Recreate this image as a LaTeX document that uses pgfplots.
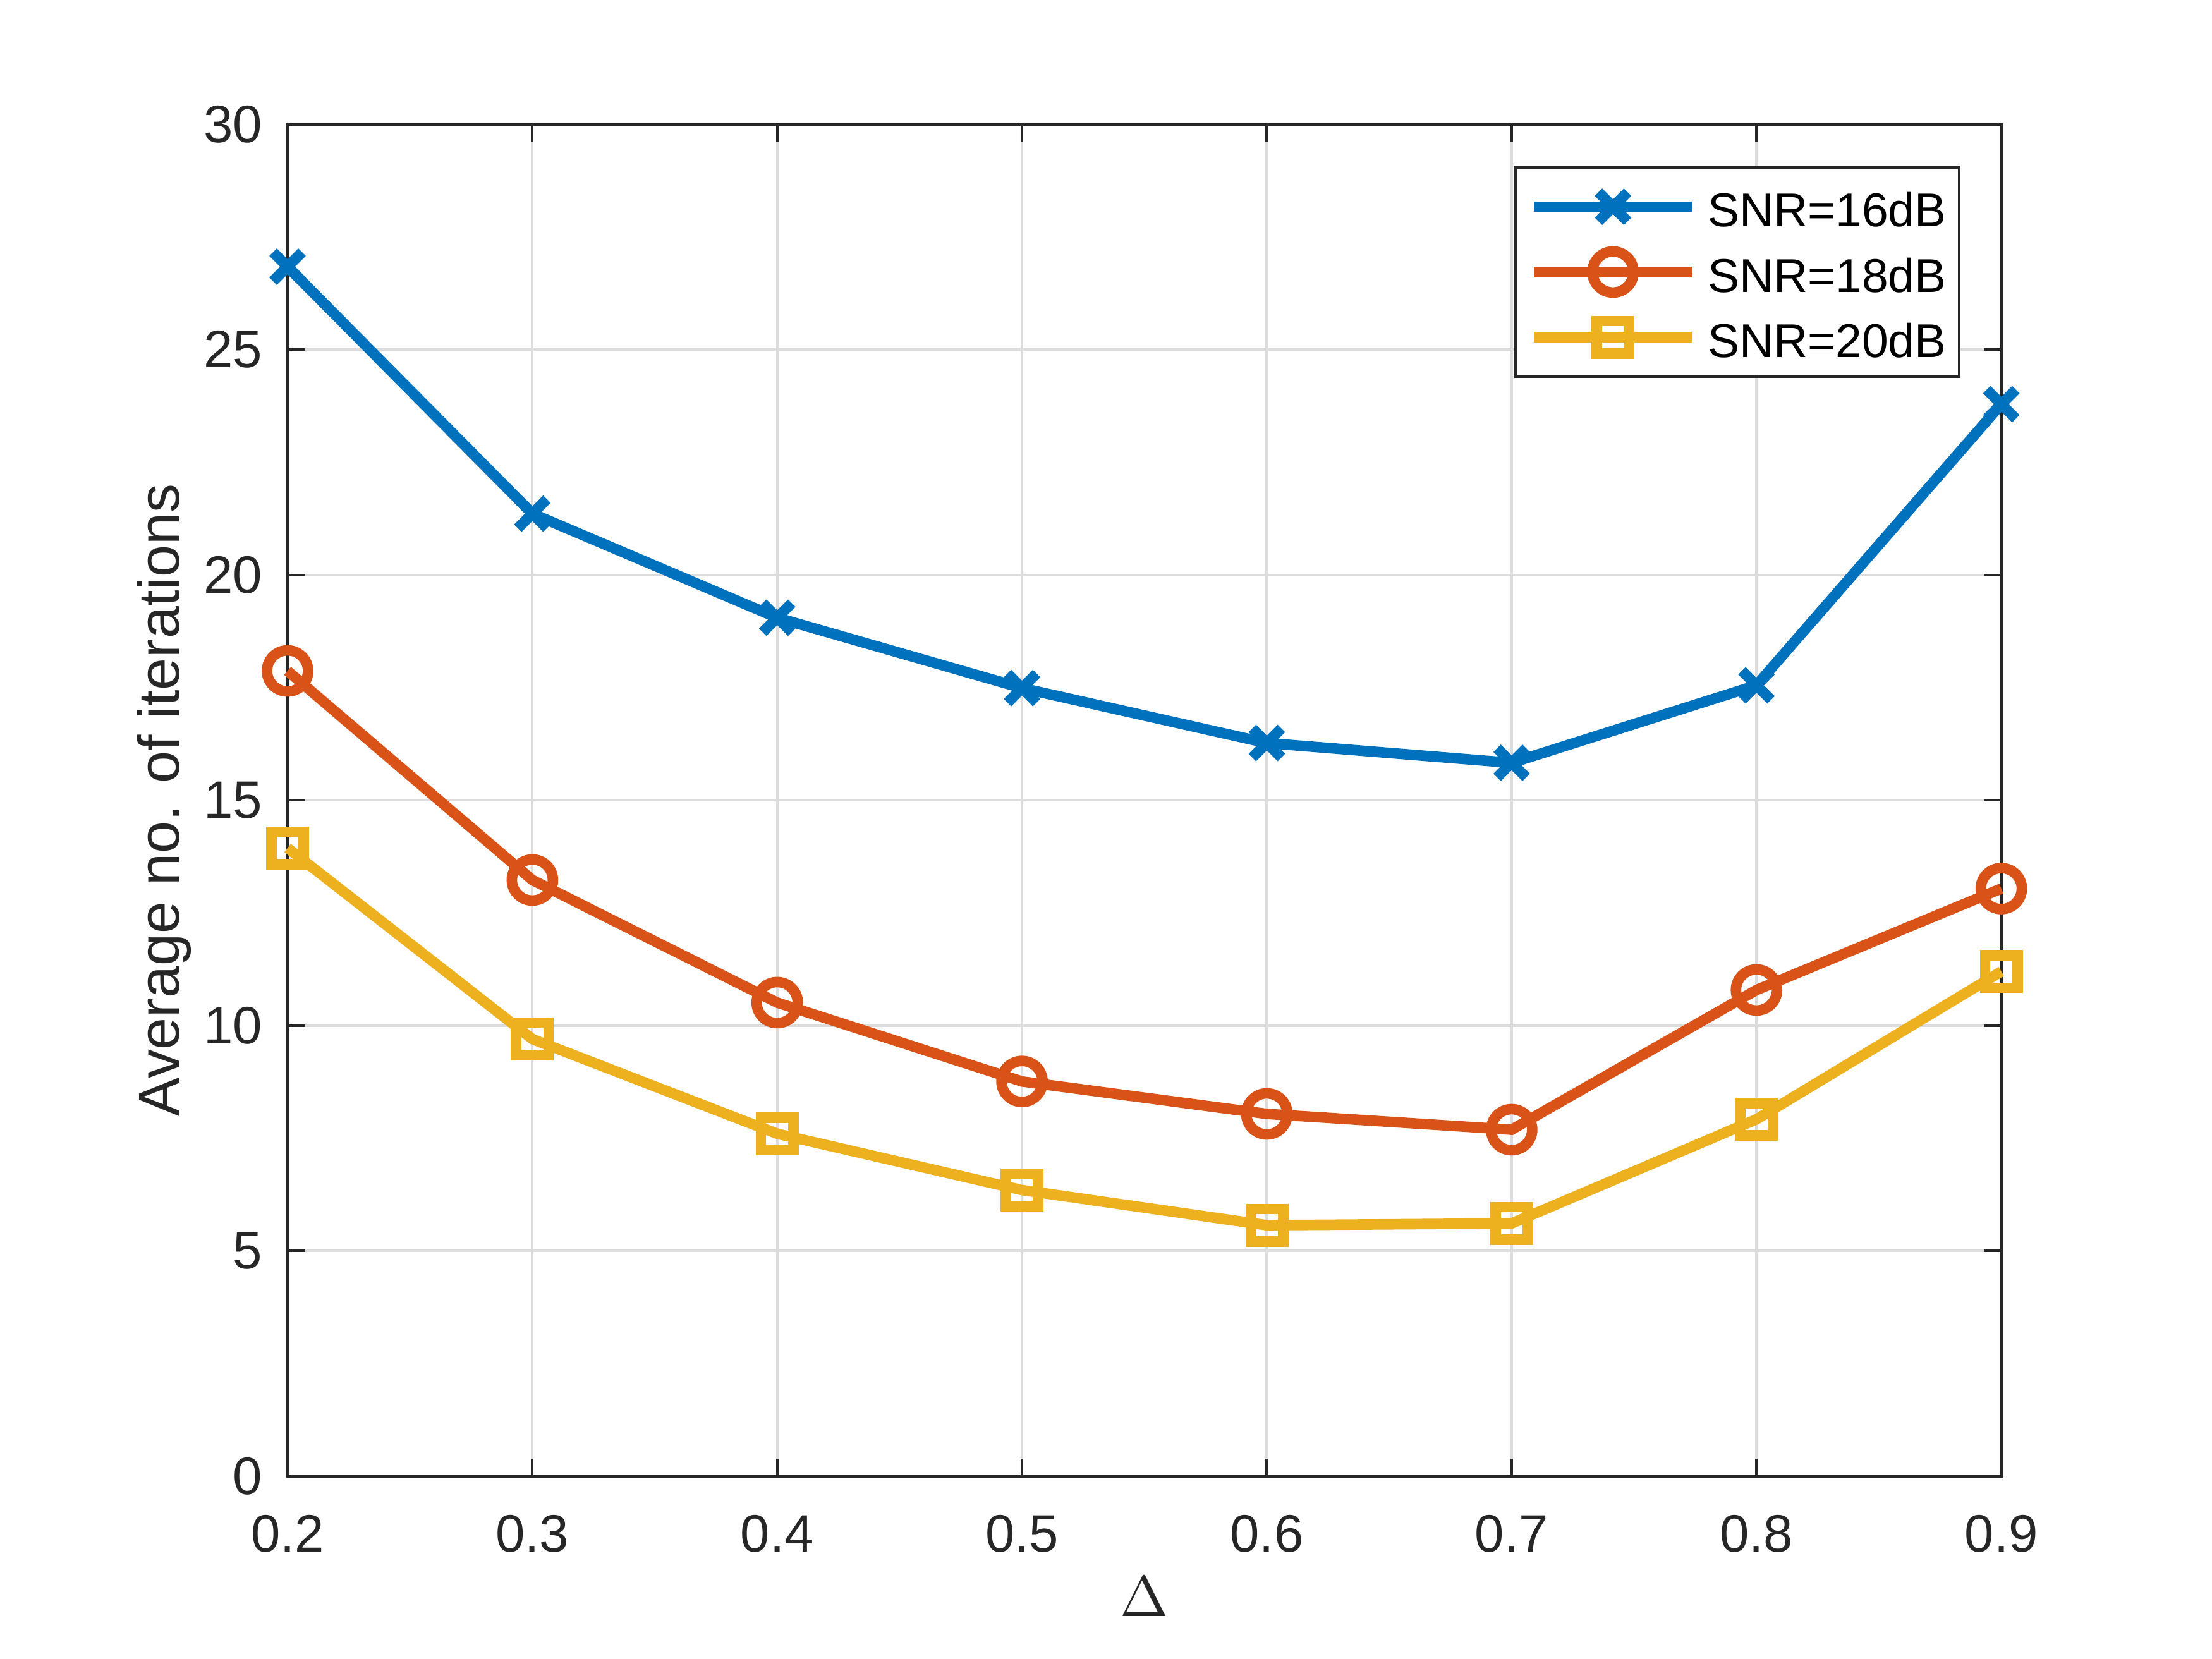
\documentclass[border=0pt]{standalone}
\usepackage{fontspec}
\setmainfont{Liberation Sans}
\usepackage{pgfplots}
\pgfplotsset{compat=1.18}
\definecolor{mblue}{HTML}{0072BD}
\definecolor{mred}{HTML}{D95319}
\definecolor{myellow}{HTML}{EDB120}
\definecolor{axgray}{HTML}{262626}
\definecolor{gridgray}{HTML}{DCDCDC}
\begin{document}
\begin{tikzpicture}
\path[use as bounding box] (-54.6pt,-34.7pt) rectangle (365.4pt,280.3pt);
\begin{axis}[
  at={(0,0)}, anchor=south west,
  scale only axis, width=325.4pt, height=256.7pt,
  xmin=0.2, xmax=0.9, ymin=0, ymax=30,
  xtick={0.2,0.3,0.4,0.5,0.6,0.7,0.8,0.9},
  xticklabels={0.2,0.3,0.4,0.5,0.6,0.7,0.8,0.9},
  ytick={0,5,10,15,20,25,30},
  tick align=inside, major tick length=3.3pt,
  tick style={axgray, line width=0.5pt},
  axis line style={axgray, line width=0.5pt},
  grid=major, major grid style={gridgray, line width=0.5pt},
  /pgf/number format/assume math mode=true,
  ticklabel style={font=\fontsize{10}{12}\selectfont, text=axgray},
  xticklabel style={yshift=-3.8pt},
  yticklabel style={xshift=-1.3pt},
  xlabel={$\Delta$},
  xlabel style={at={(axis description cs:0.5,-0.1036)}, anchor=base, font=\fontsize{11}{13}\selectfont, text=axgray},
  ylabel={Average no. of iterations},
  ylabel style={at={(axis description cs:-0.0633,0.5)}, anchor=base, font=\fontsize{11}{13}\selectfont, text=axgray},
  clip=false,
  legend cell align=left,
  legend style={at={(1,1)}, anchor=north east, xshift=-7.7pt, yshift=-7.9pt,
    draw=axgray, line width=0.5pt, fill=white,
    inner xsep=2.5pt, inner ysep=1.3pt, row sep=0pt, column sep=2.0pt,
    font=\fontsize{9}{11}\selectfont, text=black,
    nodes={inner sep=0pt, text height=7.6pt, text depth=0pt, minimum height=12.4pt}},
  legend image code/.code={\draw[mark repeat=2,mark phase=2] plot coordinates {(0pt,0pt) (15pt,0pt) (30pt,0pt)};},
]
\addplot[mblue, line width=2pt, mark=x, mark size=3.9pt, mark options={solid}] coordinates {
  (0.2,26.84) (0.3,21.36) (0.4,19.05) (0.5,17.49) (0.6,16.27) (0.7,15.83) (0.8,17.55) (0.9,23.79)};
\addlegendentry{SNR=16dB}
\addplot[mred, line width=2pt, mark=o, mark size=3.9pt, mark options={solid}] coordinates {
  (0.2,17.87) (0.3,13.23) (0.4,10.51) (0.5,8.76) (0.6,8.04) (0.7,7.69) (0.8,10.79) (0.9,13.04)};
\addlegendentry{SNR=18dB}
\addplot[myellow, line width=2pt, mark=square, mark size=3.08pt, mark options={solid}] coordinates {
  (0.2,13.94) (0.3,9.70) (0.4,7.60) (0.5,6.35) (0.6,5.57) (0.7,5.61) (0.8,7.92) (0.9,11.20)};
\addlegendentry{SNR=20dB}
\end{axis}
\end{tikzpicture}
\end{document}
